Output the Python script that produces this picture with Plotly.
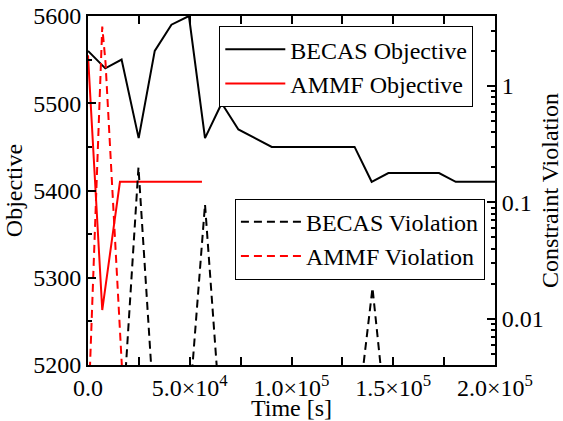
import plotly.graph_objects as go

# ---- data ----
becas_time = [0, 8.5e3, 16.5e3, 24.9e3, 32.8e3, 41e3, 49.6e3, 57.5e3, 65.7e3, 73.9e3,
              90.3e3, 131e3, 139.4e3, 147.6e3, 172.5e3, 180.7e3, 200e3]
becas_objective = [5560, 5540, 5550, 5460, 5560, 5590, 5600, 5460, 5500, 5470,
                   5450, 5450, 5410, 5420, 5420, 5410, 5410]

ammf_time = [0, 7.0e3, 15.7e3, 56e3]
ammf_objective = [5555, 5263, 5410, 5410]

becas_viol_time = [16.5e3, 24.8e3, 32.8e3, None, 49.6e3, 57.5e3, 65.7e3, None,
                   131e3, 139.8e3, 147.6e3]
becas_violation = [0.001, 0.2, 0.0013, None, 0.0016, 0.096, 0.001, None,
                   0.0009, 0.0184, 0.0009]

ammf_viol_time = [0, 7.0e3, 8.6e3, 17e3]
ammf_violation = [0.0013, 3.24, 1.6, 0.003]

x_tickvals = [0, 5e4, 1e5, 1.5e5, 2e5]
x_ticktext = ["0.0", "5.0×10<sup>4</sup>", "1.0×10<sup>5</sup>",
              "1.5×10<sup>5</sup>", "2.0×10<sup>5</sup>"]
y_tickvals = [5200, 5300, 5400, 5500, 5600]
y2_tickvals = [0.01, 0.1, 1]
y2_ticktext = ["0.01", "0.1", "1"]
y2_minor = [0.004, 0.005, 0.006, 0.007, 0.008, 0.009,
            0.02, 0.03, 0.04, 0.05, 0.06, 0.07, 0.08, 0.09,
            0.2, 0.3, 0.4, 0.5, 0.6, 0.7, 0.8, 0.9, 2, 3, 4]

FONT = "Liberation Serif"

fig = go.Figure()
fig.add_trace(go.Scatter(x=becas_time, y=becas_objective, mode="lines",
                         name="BECAS Objective", line=dict(color="black", width=2),
                         legend="legend"))
fig.add_trace(go.Scatter(x=ammf_time, y=ammf_objective, mode="lines",
                         name="AMMF Objective", line=dict(color="red", width=2),
                         legend="legend"))
fig.add_trace(go.Scatter(x=becas_viol_time, y=becas_violation, mode="lines",
                         name="BECAS Violation", yaxis="y2", connectgaps=False,
                         line=dict(color="black", width=2, dash="8px,5px"),
                         legend="legend2"))
fig.add_trace(go.Scatter(x=ammf_viol_time, y=ammf_violation, mode="lines",
                         name="AMMF Violation", yaxis="y2",
                         line=dict(color="red", width=2, dash="8px,5px"),
                         legend="legend2"))

tick_common = dict(ticks="inside", ticklen=8, tickwidth=1.5, tickcolor="black",
                   showline=True, linecolor="black", linewidth=2,
                   showgrid=False, zeroline=False, automargin=False,
                   tickfont=dict(family=FONT, size=24, color="black"))
minor_common = dict(ticks="inside", ticklen=4, tickwidth=1.5, tickcolor="black",
                    showgrid=False)

fig.update_layout(
    width=563, height=421,
    margin=dict(l=88, r=68, t=16, b=56),
    paper_bgcolor="white", plot_bgcolor="white",
    font=dict(family=FONT, size=24, color="black"),
    showlegend=True,
    xaxis=dict(range=[0, 2e5], tickmode="array", tickvals=x_tickvals, ticktext=x_ticktext,
               minor=dict(tickvals=[2.5e4, 7.5e4, 1.25e5, 1.75e5], **minor_common),
               mirror="allticks",
               title=dict(text="Time [s]", standoff=0, font=dict(family=FONT, size=24)),
               **tick_common),
    yaxis=dict(range=[5200, 5600], tickmode="array", tickvals=y_tickvals,
               minor=dict(tickvals=[5250, 5350, 5450, 5550], **minor_common),
               title=dict(text="Objective", standoff=4, font=dict(family=FONT, size=24)),
               **tick_common),
    yaxis2=dict(type="log", overlaying="y", side="right",
                range=[-2.39794, 0.60206], tickmode="array",
                tickvals=y2_tickvals, ticktext=y2_ticktext,
                minor=dict(tickvals=y2_minor, **minor_common),
                title=dict(text="Constraint Violation", standoff=0,
                           font=dict(family=FONT, size=24)),
                **tick_common),
    legend=dict(x=0.3226, y=0.971, xanchor="left", yanchor="top",
                bordercolor="black", borderwidth=1, bgcolor="white",
                font=dict(family=FONT, size=24, color="black"), itemwidth=60,
                tracegroupgap=0),
    legend2=dict(x=0.361, y=0.4765, xanchor="left", yanchor="top",
                 bordercolor="black", borderwidth=1, bgcolor="white",
                 font=dict(family=FONT, size=24, color="black"), itemwidth=60,
                 tracegroupgap=0),
)

fig.write_html("out.html", config={"displayModeBar": False},
               post_script="document.body.style.margin='0';document.body.style.overflow='hidden';")
